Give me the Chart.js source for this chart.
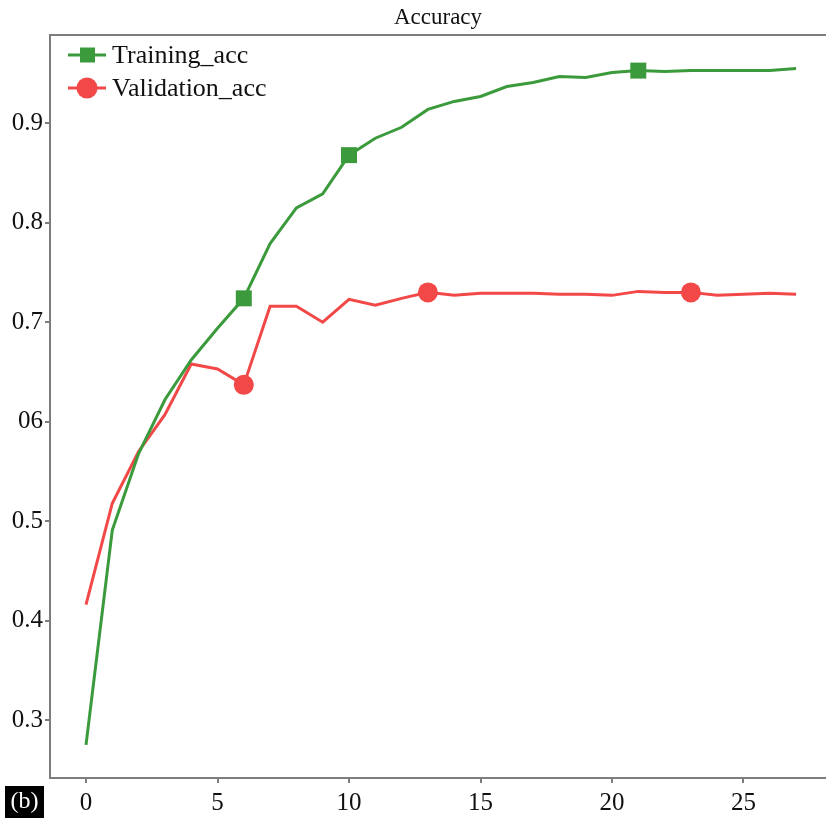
<!DOCTYPE html>
<html>
<head>
<meta charset="utf-8">
<script src="https://cdn.jsdelivr.net/npm/chart.js@4/dist/chart.umd.min.js"></script>
<style>
  html, body { margin: 0; padding: 0; background: #fff; }
  #contenedor { width: 826px; height: 821px; }
</style>
</head>
<body>
<div id="contenedor"><canvas id="Grafico-Accuracy"></canvas></div>
<script>
// Datos de las épocas
const epocas = [0, 1, 2, 3, 4, 5, 6, 7, 8, 9, 10, 11, 12, 13, 14, 15, 16, 17, 18, 19, 20, 21, 22, 23, 24, 25, 26, 27];
const trainingAcc = [
  0.275, 0.491, 0.568, 0.622, 0.662, 0.694, 0.724, 0.779, 0.815, 0.829,
  0.868, 0.885, 0.896, 0.914, 0.922, 0.927, 0.937, 0.941, 0.947, 0.946,
  0.951, 0.953, 0.952, 0.953, 0.953, 0.953, 0.953, 0.955,
];
const validationAcc = [
  0.416, 0.518, 0.570, 0.607, 0.658, 0.653, 0.637, 0.716, 0.716, 0.700,
  0.723, 0.717, 0.724, 0.730, 0.727, 0.729, 0.729, 0.729, 0.728, 0.728,
  0.727, 0.731, 0.730, 0.730, 0.727, 0.728, 0.729, 0.728,
];
// épocas con marcador
const marcasTraining = [6, 10, 21];
const marcasValidation = [6, 13, 23];

const ticksX = [0, 5, 10, 15, 20, 25];
const ticksY = [0.3, 0.4, 0.5, 0.6, 0.7, 0.8, 0.9];
const etiquetasY = ["0.3", "0.4", "0.5", "06", "0.7", "0.8", "0.9"];

const verde = "#3b9a3b";
const rojo = "#f24848";
const gris = "#7d7d7d";
const fuente = "'Liberation Serif', 'Times New Roman', serif";

function radios(marcas, r) {
  return epocas.map((e) => (marcas.includes(e) ? r : 0));
}

// marco superior, leyenda y etiqueta (b)
const extras = {
  id: "extras",
  afterDraw(chart) {
    const ctx = chart.ctx;
    const area = chart.chartArea;
    ctx.save();
    ctx.strokeStyle = gris;
    ctx.lineWidth = 2;
    ctx.beginPath();
    ctx.moveTo(area.left - 1, area.top);
    ctx.lineTo(area.right, area.top);
    ctx.stroke();

    chart.data.datasets.forEach((ds, i) => {
      const y = 55 + i * 33;
      ctx.strokeStyle = ds.borderColor;
      ctx.lineWidth = 3;
      ctx.beginPath();
      ctx.moveTo(68, y);
      ctx.lineTo(106, y);
      ctx.stroke();
      ctx.fillStyle = ds.borderColor;
      if (ds.pointStyle === "rect") {
        ctx.fillRect(80, y - 7.5, 15, 15);
      } else {
        ctx.beginPath();
        ctx.arc(87, y, 10.5, 0, Math.PI * 2);
        ctx.fill();
      }
      ctx.fillStyle = "#111";
      ctx.font = "26px " + fuente;
      ctx.textBaseline = "middle";
      ctx.fillText(ds.label, 112, y + 1);
    });

    ctx.fillStyle = "#000";
    ctx.fillRect(5, 786, 39, 32);
    ctx.fillStyle = "#fff";
    ctx.font = "24px " + fuente;
    ctx.textAlign = "center";
    ctx.textBaseline = "middle";
    ctx.fillText("(b)", 24.5, 802);
    ctx.restore();
  },
};

const lienzo = document.getElementById("Grafico-Accuracy").getContext("2d");
new Chart(lienzo, {
  type: "line",
  data: {
    datasets: [
      {
        label: "Training_acc",
        data: epocas.map((e, i) => ({ x: e, y: trainingAcc[i] })),
        borderColor: verde,
        backgroundColor: verde,
        borderWidth: 3,
        pointStyle: "rect",
        pointRadius: radios(marcasTraining, 11.3),
        pointBorderWidth: 0,
        tension: 0,
      },
      {
        label: "Validation_acc",
        data: epocas.map((e, i) => ({ x: e, y: validationAcc[i] })),
        borderColor: rojo,
        backgroundColor: rojo,
        borderWidth: 3,
        pointStyle: "circle",
        pointRadius: radios(marcasValidation, 10),
        pointBorderWidth: 0,
        tension: 0,
      },
    ],
  },
  options: {
    responsive: true,
    maintainAspectRatio: false,
    animation: false,
    events: [],
    layout: { padding: 0 },
    plugins: {
      legend: { display: false },
      tooltip: { enabled: false },
      title: {
        display: true,
        text: "Accuracy",
        fullSize: false,
        color: "#111",
        font: { family: fuente, size: 23, weight: "normal" },
        padding: { top: 4, bottom: 3.4 },
      },
    },
    scales: {
      x: {
        type: "linear",
        min: -1.369,
        max: 28.137,
        afterFit(s) { s.height = 43; },
        afterBuildTicks(s) { s.ticks = ticksX.map((v) => ({ value: v })); },
        grid: { drawOnChartArea: false, tickLength: 5, color: gris, lineWidth: 2 },
        border: { color: gris, width: 2 },
        ticks: {
          color: "#111",
          font: { family: fuente, size: 25 },
          padding: 5,
          maxRotation: 0,
          autoSkip: false,
        },
      },
      y: {
        min: 0.2417,
        max: 0.9888,
        afterFit(s) { s.width = 50; },
        afterBuildTicks(s) { s.ticks = ticksY.map((v) => ({ value: v })); },
        grid: { drawOnChartArea: false, tickLength: 5, color: gris, lineWidth: 2 },
        border: { color: gris, width: 2 },
        ticks: {
          color: "#111",
          font: { family: fuente, size: 25 },
          padding: 2,
          callback: (v, i) => etiquetasY[i],
        },
      },
    },
  },
  plugins: [extras],
});
</script>
</body>
</html>
